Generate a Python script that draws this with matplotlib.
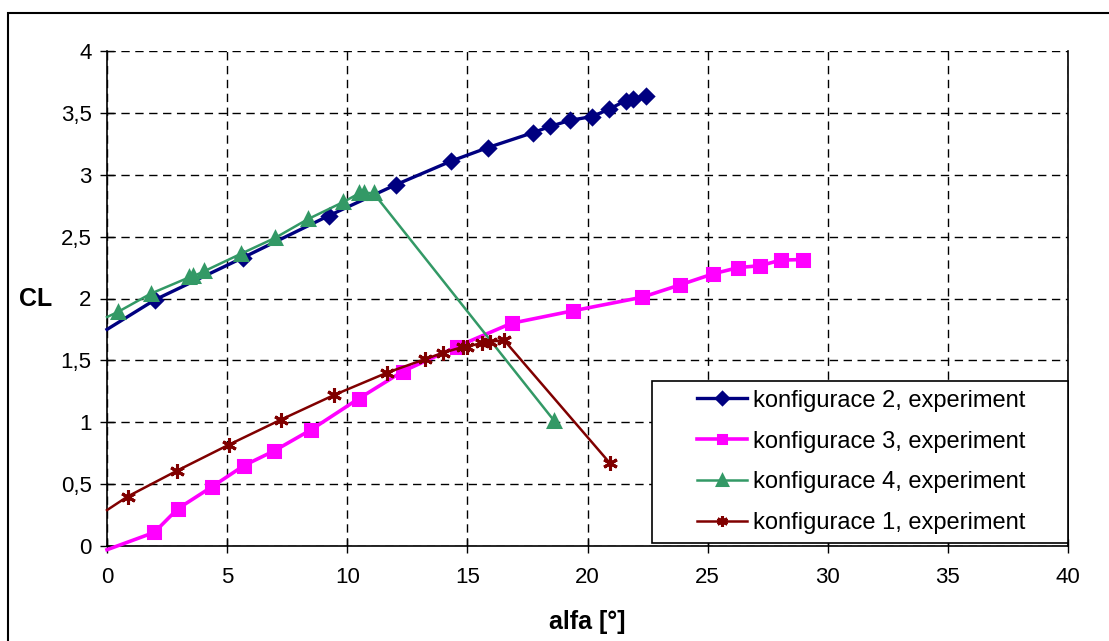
import matplotlib.pyplot as plt
from matplotlib.patches import Rectangle
from matplotlib.ticker import FuncFormatter
import numpy as np

plt.rcParams['font.family'] = ['Liberation Sans', 'DejaVu Sans']

# konfigurace 2 (first point = line start, no marker)
k2_alfa = [0.0, 2.0, 5.66, 9.24, 12.03, 14.32, 15.86, 17.73, 18.44, 19.27,
           20.19, 20.9, 21.6, 21.9, 22.43]
k2_cl = [1.75, 1.99, 2.33, 2.67, 2.92, 3.11, 3.22, 3.34, 3.39, 3.44,
         3.47, 3.53, 3.60, 3.61, 3.64]

# konfigurace 3
k3_alfa = [0.0, 1.97, 2.94, 4.38, 5.70, 6.97, 8.50, 10.47, 12.30, 14.55,
           16.84, 19.38, 22.27, 23.85, 25.24, 26.28, 27.18, 28.04, 28.95]
k3_cl = [-0.03, 0.11, 0.30, 0.48, 0.65, 0.77, 0.94, 1.19, 1.41, 1.61,
         1.80, 1.90, 2.01, 2.11, 2.20, 2.25, 2.265, 2.31, 2.315]

# konfigurace 4
k4_alfa = [0.0, 0.44, 1.83, 3.41, 3.59, 4.04, 5.56, 7.0, 8.35, 9.84,
           10.5, 10.7, 11.1, 18.62]
k4_cl = [1.85, 1.89, 2.04, 2.17, 2.18, 2.22, 2.36, 2.49, 2.64, 2.78,
         2.85, 2.855, 2.85, 1.01]

# konfigurace 1
k1_alfa = [0.0, 0.86, 2.93, 5.09, 7.23, 9.45, 11.65, 13.24, 13.97, 14.83,
           14.97, 15.59, 15.94, 16.52, 20.93]
k1_cl = [0.29, 0.40, 0.61, 0.82, 1.02, 1.22, 1.40, 1.51, 1.56, 1.61,
         1.61, 1.64, 1.65, 1.665, 0.67]

series = [
    (k2_alfa, k2_cl, '#000080', 'D', 7.5, 2.4, 'konfigurace 2, experiment'),
    (k3_alfa, k3_cl, '#FF00FF', 's', 8.5, 2.6, 'konfigurace 3, experiment'),
    (k4_alfa, k4_cl, '#339966', '^', 9, 1.8, 'konfigurace 4, experiment'),
    (k1_alfa, k1_cl, '#800000', (6, 2, 0), 10.5, 1.8, 'konfigurace 1, experiment'),
]

fig = plt.figure(figsize=(11.09, 6.41), dpi=100)
ax = fig.add_axes([107 / 1109, 1 - 546 / 641, 961 / 1109, 495 / 641])

handles = []
for x, y, c, m, ms, lw, lab in series:
    h, = ax.plot(x, y, color=c, lw=lw, marker=m, ms=ms, mfc=c, mec=c,
                 mew=2.2, markevery=list(range(1, len(x))), clip_on=False,
                 label=lab, zorder=3)
    handles.append(h)

ax.set_xlim(0, 40)
ax.set_ylim(0, 4)
ax.set_xticks(np.arange(0, 41, 5))
ax.set_yticks(np.arange(0, 4.01, 0.5))
ax.yaxis.set_major_formatter(FuncFormatter(lambda v, p: ('%g' % v).replace('.', ',')))
ax.grid(True, color='black', lw=1, ls=(0, (6, 4)))
ax.set_axisbelow(True)
ax.spines['top'].set_visible(False)
for s in ['left', 'bottom', 'right']:
    ax.spines[s].set_linewidth(1.2)
ax.tick_params(direction='inout', length=10, width=1, labelsize=16)
ax.tick_params(axis='x', pad=10)
ax.tick_params(axis='y', pad=6)
ax.tick_params(right=False, top=False)

ax.set_xlabel('alfa [°]', fontsize=18, fontweight='bold', labelpad=16)
ax.set_ylabel('CL', fontsize=18, fontweight='bold', rotation=0, ha='center', va='center')
ax.yaxis.set_label_coords((36 - 107) / 961, 0.5)

# legend box
x0 = (652 - 107) / 961
y0 = (546 - 543) / 495
y1 = (546 - 381) / 495
ax.add_patch(Rectangle((x0, y0), 1 - x0, y1 - y0, transform=ax.transAxes,
                       facecolor='white', edgecolor='black', lw=1.2,
                       zorder=5, clip_on=False))
leg = ax.legend(handles=handles, loc='center', bbox_to_anchor=((x0 + 1) / 2 + 0.001, (y0 + y1) / 2),
                frameon=False, fontsize=17, handlelength=2.1, handletextpad=0.25,
                labelspacing=0.8, borderpad=0.3)
leg.set_zorder(6)
for lh in leg.legend_handles:
    lh.set_markersize(lh.get_markersize() * 0.75)

# outer chart border
fig.patches.append(Rectangle((8 / 1109, -0.2), 1.5, 1 - 13 / 641 + 0.2,
                             transform=fig.transFigure, fill=False,
                             edgecolor='black', lw=1.5))

fig.savefig('out.png', dpi=100)
